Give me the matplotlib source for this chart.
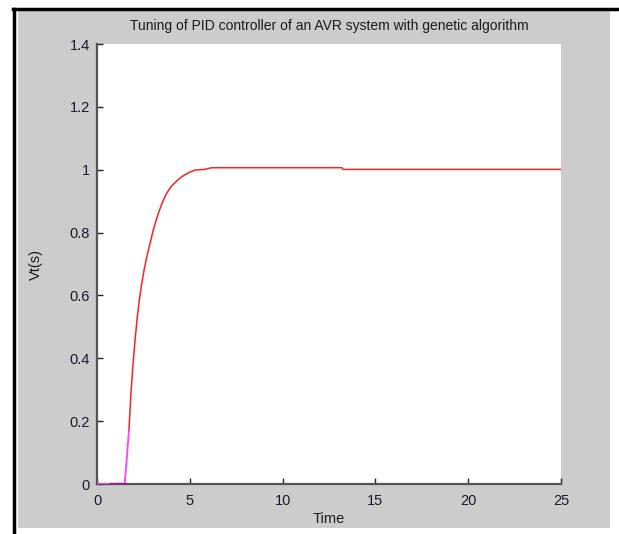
import matplotlib
matplotlib.use("Agg")
import matplotlib.pyplot as plt
from matplotlib.patches import Rectangle
from matplotlib.lines import Line2D

# ---- data ----
title = "Tuning of PID controller of an AVR system with genetic algorithm"
x_label = "Time"
y_label = "Vt(s)"
x_ticks = [0, 5, 10, 15, 20, 25]
y_ticks = [0, 0.2, 0.4, 0.6, 0.8, 1, 1.2, 1.4]
y_tick_labels = ["0", "0.2", "0.4", "0.6", "0.8", "1", "1.2", "1.4"]

t_start = [0, 0.77, 1.49, 1.6, 1.72]
v_start = [0, 0, 0, 0.08, 0.17]

t_dark = [0.77, 1.49]
v_dark = [0, 0]

t_resp = [1.72, 1.83, 1.94, 2.05, 2.16, 2.28, 2.41, 2.55, 2.68, 2.82, 3.05,
          3.30, 3.52, 3.75, 4.0, 4.29, 4.6, 4.92, 5.28, 5.8, 6.18, 13.2,
          13.25, 25]
v_resp = [0.17, 0.289, 0.38, 0.458, 0.525, 0.585, 0.638, 0.685, 0.722, 0.757,
          0.812, 0.861, 0.896, 0.925, 0.947, 0.964, 0.979, 0.990, 0.999,
          1.001, 1.0064, 1.0064, 1.001, 1.001]

W, H = 619, 534
fig = plt.figure(figsize=(W / 100, H / 100), dpi=100)
fig.patch.set_facecolor("white")

font = ["Liberation Sans Narrow", "Liberation Sans", "DejaVu Sans"]

# gray MATLAB figure panel
fig.patches.append(Rectangle((18 / W, (H - 528) / H), (610 - 18) / W, (528 - 10) / H,
                             transform=fig.transFigure, facecolor="#cccccc",
                             edgecolor="none", zorder=-10))
# black frame lines (top and left)
fig.lines.append(Line2D([13 / W, 1.0], [(H - 8.5) / H, (H - 8.5) / H],
                        transform=fig.transFigure, color="black", lw=2.5, zorder=-5))
fig.lines.append(Line2D([14 / W, 14 / W], [0, (H - 8.5) / H],
                        transform=fig.transFigure, color="black", lw=2.5, zorder=-5))

ax = fig.add_axes([97 / W, (H - 484) / H, (561 - 97) / W, (484 - 44) / H])
ax.set_zorder(1)
ax.set_facecolor("white")

ax.plot(t_resp, v_resp, color="#ff2020", lw=1.1, zorder=3)
ax.plot(t_start, v_start, color="#ff40ff", lw=1.3, zorder=4)
ax.plot(t_dark, v_dark, color="#b000b0", lw=1.6, zorder=5)

ax.set_xlim(0, 25)
ax.set_ylim(0, 1.4)
ax.set_xticks(x_ticks)
ax.set_xticklabels([str(v) for v in x_ticks])
ax.set_yticks(y_ticks)
ax.set_yticklabels(y_tick_labels)

for s in ["top", "right"]:
    ax.spines[s].set_visible(False)
for s in ["left", "bottom"]:
    ax.spines[s].set_color("#555555")
    ax.spines[s].set_linewidth(1.6)

ax.tick_params(direction="in", length=4, width=1, color="#222222",
               labelsize=10.5, labelcolor="#1a1a2a")
ax.tick_params(axis="x", pad=7)
ax.tick_params(axis="y", pad=5)
for lab in ax.get_xticklabels() + ax.get_yticklabels():
    lab.set_family(font)

ax.set_title(title, fontsize=10, family=font, color="#1a1a1a", pad=10)
ax.set_xlabel(x_label, fontsize=10.5, family=font, color="#1a1a1a", labelpad=3)
ax.set_ylabel(y_label, fontsize=10.5, family=font, color="#1a1a1a", labelpad=19)

fig.savefig("out.png", dpi=100, facecolor="white")
